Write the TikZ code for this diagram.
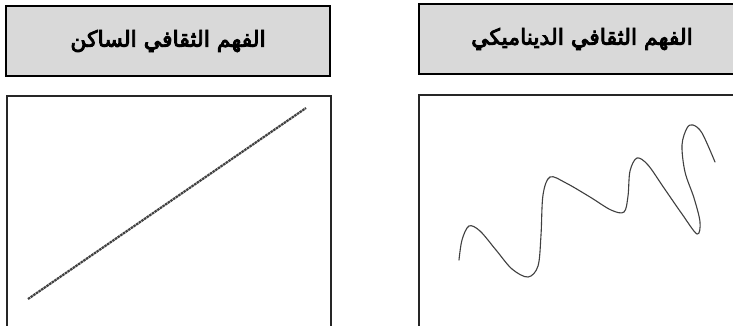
\documentclass[tikz,border=0pt]{standalone}
\usepackage{fontspec}
\newfontfamily\arabicfont[Script=Arabic, FakeBold=4]{DejaVu Sans}
\TeXXeTstate=1
\usepackage{tikz}
\usetikzlibrary{positioning}

\begin{document}
\begin{tikzpicture}[x=1pt, y=-1pt,
    headbox/.style={draw=black, line width=1.3pt, fill=black!15,
                    minimum width=324pt, minimum height=70pt, inner sep=0pt,
                    font=\fontsize{22}{26}\selectfont\arabicfont},
    framebox/.style={draw=black!85, line width=1.2pt, fill=white,
                     minimum width=324pt, minimum height=250pt, inner sep=0pt},
    stroke/.style={black!75, line width=2.2pt}
  ]
    \clip (0,0) rectangle (733,325);

    % headers
    \node[headbox] (statichead) at (168,41) {\beginR الفهم الثقافي الساكن\endR};
    \node[headbox, minimum width=326pt] (dynhead) at (582,39) {\beginR الفهم الثقافي الديناميكي\endR};

    % frames below
    \node[framebox] (staticframe) at (169,221) {};
    \node[framebox, minimum width=326pt] (dynframe) at (582,220) {};

    % straight line (static)
    \draw[stroke, dash pattern=on 2.5pt off 0.7pt] (28,299) -- (306,108);

    % wavy line (dynamic)
    \draw[black!75, line width=1.1pt, line cap=round]
      plot[smooth, tension=0.55] coordinates {
        (459,260) (462,240) (469,226) (480,231) (496,250) (512,269)
        (528,277) (538,266) (541,235) (543,195) (550,177) (566,183)
        (590,197) (611,210) (624,212) (628,196) (630,171) (637,158)
        (648,165) (664,188) (682,214) (697,234) (700,222) (694,198)
        (685,172) (682,145) (687,128) (693,125) (702,133) (715,162)};
\end{tikzpicture}
\end{document}
